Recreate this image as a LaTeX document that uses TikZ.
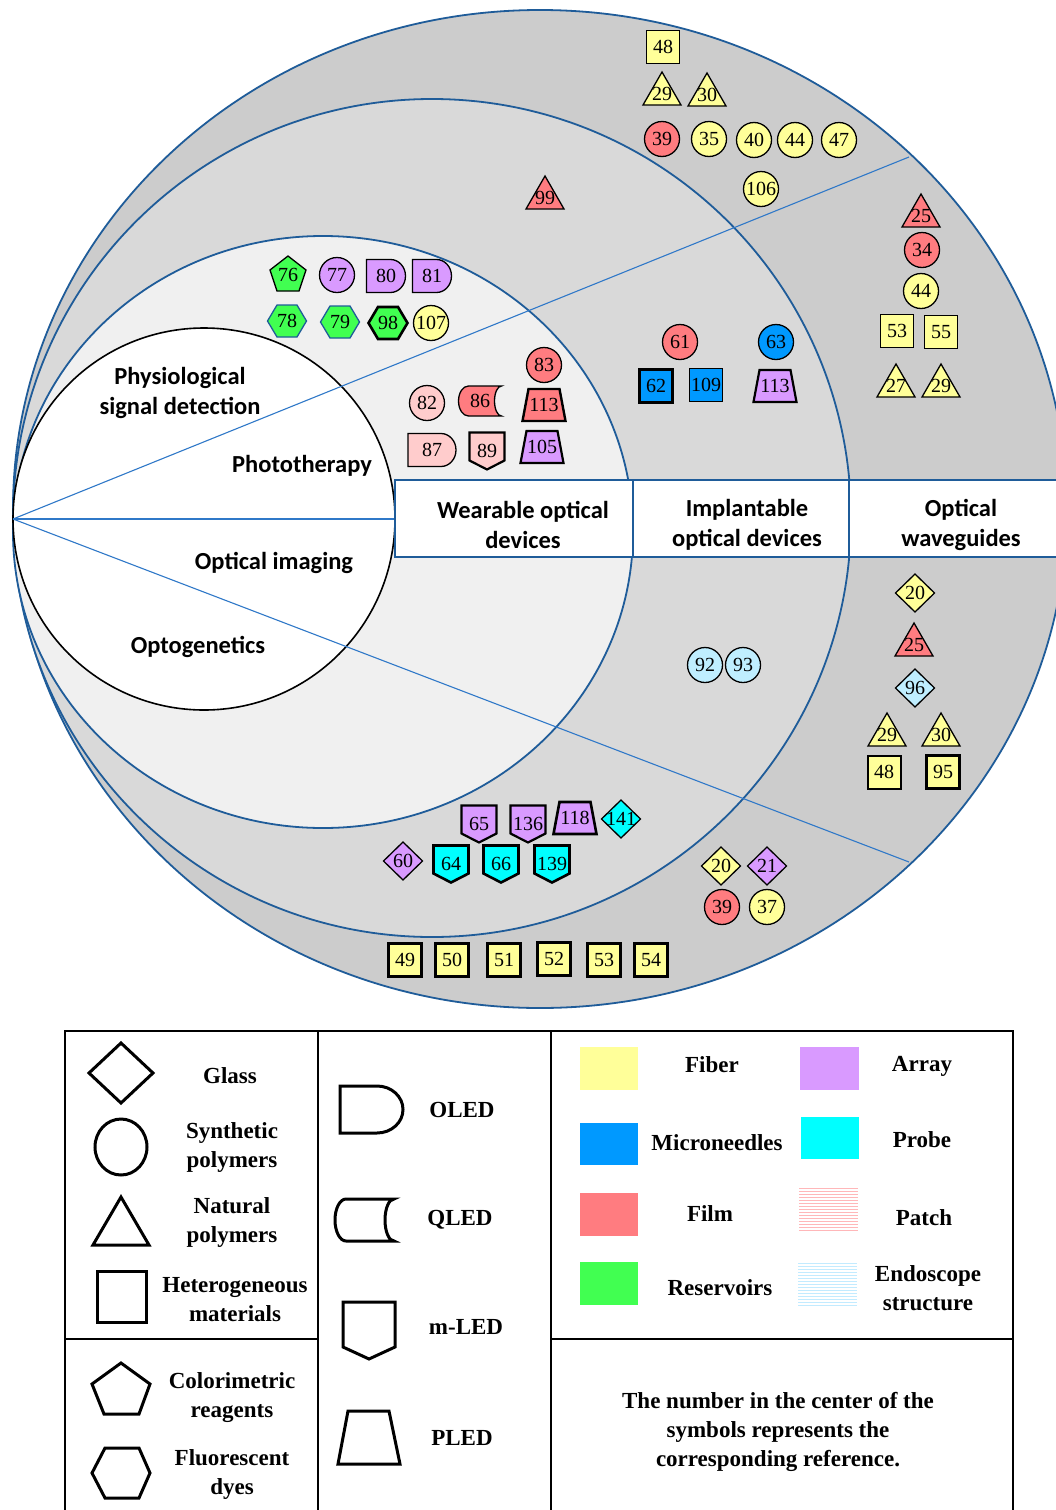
\documentclass[tikz,border=0pt]{standalone}
\usepackage{fontspec}
\setmainfont{Liberation Serif}
\newfontfamily\cfont{Carlito}
\newfontfamily\tfont{Liberation Serif}
\definecolor{yel}{HTML}{FFFF99}
\definecolor{blu}{HTML}{0099FF}
\definecolor{red}{HTML}{FF7C80}
\definecolor{grn}{HTML}{41FF51}
\definecolor{pur}{HTML}{D99AFF}
\definecolor{cyn}{HTML}{00FFFF}
\definecolor{pnk}{HTML}{FFCCCC}
\definecolor{lbl}{HTML}{BFEEFF}
\definecolor{arcblue}{HTML}{1F5C99}
\definecolor{lineblue}{HTML}{2F78C8}
\definecolor{gA}{HTML}{CCCCCC}
\definecolor{gB}{HTML}{D9D9D9}
\definecolor{gC}{HTML}{F0F0F0}
\newcommand\Sym[6][]{\begin{scope}[line width=1.3pt,#1]\pic at (#3) {#2=#5};\end{scope}\node[num] (#4) at (#3) {#6};}
\tikzset{
  ring/.style={draw=arcblue, line width=1.8pt},
  secline/.style={draw=lineblue, line width=1.1pt},
  lab/.style={font=\cfont\bfseries\fontsize{24.5}{30}\selectfont, align=center, inner sep=0pt},
  num/.style={font=\tfont\fontsize{20}{20}\selectfont, inner sep=0pt},
  leg/.style={font=\tfont\bfseries\fontsize{23}{29}\selectfont, align=center, inner sep=0pt},
  note/.style={font=\tfont\bfseries\fontsize{23}{29}\selectfont, align=center, inner sep=0pt},
  legshape/.style={draw=black, line width=3pt, line join=miter},
  tabline/.style={draw=black, line width=2pt},
  pics/pcirc/.style={code={\filldraw[fill=#1] (0,0) circle[radius=17.5pt];}},
  pics/psq/.style={code={\filldraw[fill=#1] (-16.5,-16.5) rectangle (16.5,16.5);}},
  pics/ptri/.style={code={\filldraw[fill=#1] (0,-22)--(19,11)--(-19,11)--cycle;}},
  pics/pdia/.style={code={\filldraw[fill=#1] (0,-19)--(19.5,0)--(0,19)--(-19.5,0)--cycle;}},
  pics/ppent/.style={code={\filldraw[fill=#1] (0,-19)--(18,-5)--(11,16)--(-11,16)--(-18,-5)--cycle;}},
  pics/phex/.style={code={\filldraw[fill=#1] (-19.5,0)--(-10,-16)--(10,-16)--(19.5,0)--(10,16)--(-10,16)--cycle;}},
  pics/poled/.style 2 args={code={\filldraw[fill=#1] ({-#2/2},-16.5) -- ({#2/2-15},-16.5) arc[start angle=90,end angle=-90,x radius=15pt,y radius=16.5pt] -- ({-#2/2},16.5) -- cycle;}},
  pics/pqled/.style={code={\filldraw[fill=#1] (21.5,-15) -- (-11.5,-15) arc[start angle=90,end angle=270,x radius=10pt,y radius=15pt] -- (21.5,15) arc[start angle=270,end angle=90,x radius=7pt,y radius=15pt] -- cycle;}},
  pics/pmled/.style={code={\filldraw[fill=#1] (-17.5,-18.5)--(17.5,-18.5)--(17.5,9.5)--(0,18.5)--(-17.5,9.5)--cycle;}},
  pics/ppled/.style={code={\filldraw[fill=#1] (-15.5,-16)--(15.5,-16)--(21.5,16)--(-21.5,16)--cycle;}},
}
\begin{document}
\begin{tikzpicture}[x=1pt,y=-1pt]
\clip (0,0) rectangle (1056,1510);
\fill[white] (0,0) rectangle (1056,1510);
% rings
\filldraw[fill=gA,ring] (540,509) ellipse [x radius=527pt, y radius=499pt];
\filldraw[fill=gB,ring] (432,518) circle [radius=419pt];
\filldraw[fill=gC,ring] (323,532) ellipse [x radius=310pt, y radius=296pt];
\filldraw[fill=white,draw=black,line width=1.6pt] (204,519) circle [radius=191pt];
% sector lines
\coordinate (L) at (13,519);
\coordinate (U) at (909,157);
\coordinate (D) at (909,862);
\coordinate (H) at (395,519);
\draw[secline] (L) -- (U);
\draw[secline] (L) -- (D);
\draw[secline] (L) -- (H);
% header row
\filldraw[fill=white,draw=arcblue,line width=2pt] (395,480) rectangle (1070,557);
\draw[draw=arcblue,line width=2pt] (633,480) -- (633,557);
\draw[draw=arcblue,line width=2pt] (849,480) -- (849,557);
\node[lab] (hw) at (523,525) {Wearable optical\\devices};
\node[lab] (hi) at (747,525) {Implantable\\optical devices};
\node[lab] (ho) at (961,525) {Optical\\waveguides};
% sector labels
\node[lab] (sp) at (180,393) {Physiological\\signal detection};
\node[lab] (st) at (302,466) {Phototherapy};
\node[lab] (si) at (274,563) {Optical imaging};
\node[lab] (so) at (198,647) {Optogenetics};
% ---- symbols: outer ring top
\Sym{psq}{663,47}{a48}{yel}{48}
\Sym{ptri}{662,94}{a29}{yel}{29}
\Sym{ptri}{707,95}{a30}{yel}{30}
\Sym{pcirc}{662,139}{a39}{red}{39}
\Sym{pcirc}{709,139}{a35}{yel}{35}
\Sym{pcirc}{754,140}{a40}{yel}{40}
\Sym{pcirc}{795,140}{a44}{yel}{44}
\Sym{pcirc}{839,140}{a47}{yel}{47}
\Sym{pcirc}{761,189}{a106}{yel}{106}
\Sym{ptri}{545,198}{b99}{red}{99}
% outer ring phototherapy
\Sym{ptri}{921,216}{c25}{red}{25}
\Sym{pcirc}{922,250}{c34}{red}{34}
\Sym{pcirc}{921,291}{c44}{yel}{44}
\Sym{psq}{897,331}{c53}{yel}{53}
\Sym{psq}{941,332}{c55}{yel}{55}
\Sym{ptri}{896,386}{c27}{yel}{27}
\Sym{ptri}{941,386}{c29}{yel}{29}
% middle ring phototherapy
\Sym{pcirc}{680,342}{d61}{red}{61}
\Sym{pcirc}{776,342}{d63}{blu}{63}
\Sym[line width=2.4pt]{psq}{656,386}{d62}{blu}{62}
\Sym{psq}{706,385}{d109}{blu}{109}
\Sym[line width=2.2pt]{ppled}{775,386}{d113}{pur}{113}
% inner ring physiological
\Sym{ppent}{288,275}{e76}{grn}{76}
\Sym{pcirc}{337,275}{e77}{pur}{77}
\Sym{poled}{386,276}{e80}{{pur}{39}}{80}
\Sym{poled}{432,276}{e81}{{pur}{39}}{81}
\Sym[color=arcblue]{phex}{287,321}{e78}{grn}{78}
\Sym[color=arcblue]{phex}{340,322}{e79}{grn}{79}
\Sym[line width=2.6pt]{phex}{388,323}{e98}{grn}{98}
\Sym{pcirc}{431,323}{e107}{yel}{107}
% inner ring phototherapy
\Sym{pcirc}{544,365}{f83}{red}{83}
\Sym{pcirc}{427,403}{f82}{pnk}{82}
\Sym{pqled}{480,401}{f86}{red}{86}
\Sym[line width=2.4pt]{ppled}{544,405}{f113}{red}{113}
\Sym{poled}{432,450}{f87}{{pnk}{48}}{87}
\Sym[line width=2.2pt]{pmled}{487,451}{f89}{pnk}{89}
\Sym[line width=2.2pt]{ppled}{542,447}{f105}{pur}{105}
% middle ring imaging
\Sym{pcirc}{705,665}{g92}{lbl}{92}
\Sym{pcirc}{743,665}{g93}{lbl}{93}
% outer ring imaging
\Sym{pdia}{915,593}{h20}{yel}{20}
\Sym{ptri}{914,645}{h25}{red}{25}
\Sym{pdia}{915,688}{h96}{lbl}{96}
\Sym{ptri}{887,735}{h29}{yel}{29}
\Sym{ptri}{941,735}{h30}{yel}{30}
\Sym[line width=2pt]{psq}{884,772}{h48}{yel}{48}
\Sym[line width=2.6pt]{psq}{943,772}{h95}{yel}{95}
% middle ring optogenetics
\Sym[line width=2.2pt]{pmled}{479,824}{i65}{pur}{65}
\Sym[line width=2.2pt]{pmled}{528,824}{i136}{pur}{136}
\Sym[line width=2.6pt]{ppled}{575,818}{i118}{pur}{118}
\Sym{pdia}{621,819}{i141}{cyn}{141}
\Sym{pdia}{403,861}{i60}{pur}{60}
\Sym[line width=2.6pt]{pmled}{451,864}{i64}{cyn}{64}
\Sym[line width=2.6pt]{pmled}{501,864}{i66}{cyn}{66}
\Sym[line width=2.6pt]{pmled}{552,864}{i139}{cyn}{139}
% outer ring optogenetics
\Sym{pdia}{721,866}{j20}{yel}{20}
\Sym{pdia}{767,866}{j21}{pur}{21}
\Sym{pcirc}{722,907}{j39}{red}{39}
\Sym{pcirc}{767,907}{j37}{yel}{37}
\Sym[line width=2.2pt]{psq}{405,960}{j49}{yel}{49}
\Sym[line width=2.2pt]{psq}{452,960}{j50}{yel}{50}
\Sym[line width=2.2pt]{psq}{504,960}{j51}{yel}{51}
\Sym[line width=2.2pt]{psq}{554,959}{j52}{yel}{52}
\Sym[line width=2.2pt]{psq}{604,960}{j53}{yel}{53}
\Sym[line width=2.2pt]{psq}{651,960}{j54}{yel}{54}
% ---------------- legend
\draw[tabline] (65,1031) rectangle (1013,1530);
\draw[tabline] (318,1031) -- (318,1530);
\draw[tabline] (551,1031) -- (551,1530);
\draw[tabline] (65,1339) -- (318,1339);
\draw[tabline] (551,1339) -- (1013,1339);
% column 1
\draw[legshape] (121,1043)--(153,1073)--(121,1103)--(89,1073)--cycle;
\draw[legshape] (121,1147) ellipse [x radius=26pt, y radius=28pt];
\draw[legshape] (121,1197)--(149,1245)--(93,1245)--cycle;
\draw[legshape] (97,1271) rectangle (146,1322);
\draw[legshape] (121,1363)--(150,1384)--(139,1414)--(104,1414)--(92,1384)--cycle;
\draw[legshape] (92,1473)--(105,1448)--(139,1448)--(150,1473)--(139,1498)--(105,1498)--cycle;
\node[leg] (lglass) at (230,1076) {Glass};
\node[leg] (lsyn) at (232,1147) {Synthetic\\polymers};
\node[leg] (lnat) at (232,1222) {Natural\\polymers};
\node[leg] (lhet) at (235,1300) {Heterogeneous\\materials};
\node[leg] (lcol) at (232,1398) {Colorimetric\\reagents};
\node[leg] (lflu) at (232,1474) {Fluorescent\\dyes};
% column 2
\draw[legshape] (340,1086) -- (377,1086) arc[start angle=90,end angle=-90,x radius=26pt,y radius=23.5pt] -- (340,1133) -- cycle;
\draw[legshape] (394,1199) -- (346,1199) arc[start angle=90,end angle=270,x radius=11pt,y radius=21pt] -- (394,1241) arc[start angle=270,end angle=90,x radius=9pt,y radius=21pt] -- cycle;
\draw[legshape] (343,1302) -- (395,1302) -- (395,1347) -- (369,1359) -- (343,1347) -- cycle;
\draw[legshape] (348,1411) -- (389,1411) -- (400,1464) -- (338,1464) -- cycle;
\node[leg] (loled) at (462,1110) {OLED};
\node[leg] (lqled) at (460,1220) {QLED};
\node[leg] (lmled) at (466,1327) {m-LED};
\node[leg] (lpled) at (462,1438) {PLED};
% column 3
\fill[yel] (580,1047) rectangle (638,1090);
\fill[blu] (580,1123) rectangle (638,1165);
\fill[red] (580,1193) rectangle (638,1236);
\fill[grn] (580,1262) rectangle (638,1305);
\fill[pur] (800,1047) rectangle (859,1090);
\fill[cyn] (801,1117) rectangle (859,1159);
\foreach \k in {0,...,14} {\draw[draw=red!55!white, line width=0.9pt] (799,1188+3*\k) -- (858,1188+3*\k);}
\foreach \k in {0,...,14} {\draw[draw=lbl!80!blu!60!white, line width=0.9pt] (798,1263+3*\k) -- (857,1263+3*\k);}
\node[leg] (lfib) at (712,1065) {Fiber};
\node[leg] (lmic) at (717,1143) {Microneedles};
\node[leg] (lfilm) at (710,1214) {Film};
\node[leg] (lres) at (720,1288) {Reservoirs};
\node[leg] (larr) at (922,1066) {Array};
\node[leg] (lpro) at (922,1140) {Probe};
\node[leg] (lpat) at (924,1218) {Patch};
\node[leg] (lendo) at (928,1288) {Endoscope\\structure};
\node[note] (lnote) at (778,1432) {The number in the center of the\\symbols represents the\\corresponding reference.};
\end{tikzpicture}
\end{document}
